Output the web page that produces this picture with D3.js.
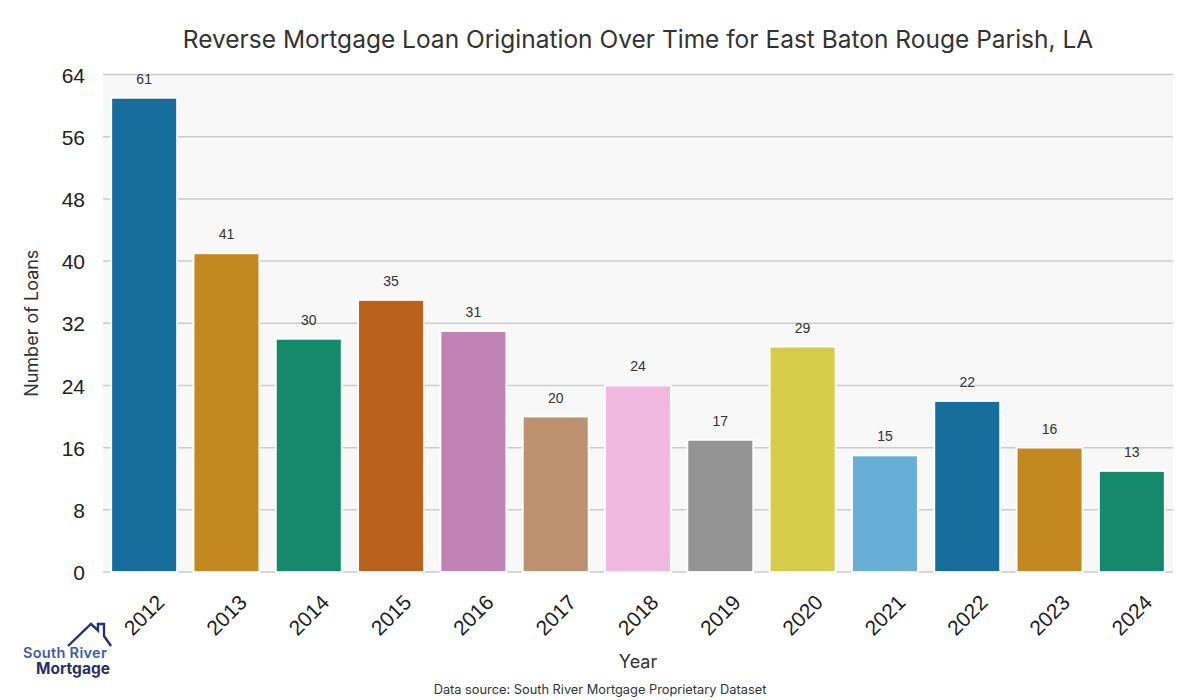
<!DOCTYPE html>
<html>
<head>
<meta charset="utf-8">
<script src="https://cdn.jsdelivr.net/npm/d3@7"></script>
<style>
  html, body { margin: 0; padding: 0; background: #ffffff; }
  svg { display: block; }
</style>
</head>
<body>
<svg id="chart" width="1200" height="700"></svg>
<script>
const years = ["2012","2013","2014","2015","2016","2017","2018","2019","2020","2021","2022","2023","2024"];
const loans = [61, 41, 30, 35, 31, 20, 24, 17, 29, 15, 22, 16, 13];
const yTicks = [0, 8, 16, 24, 32, 40, 48, 56, 64];
const palette = ["#176d9c","#c38820","#158a6a","#ba611b","#c183b6","#bd926e","#f1b8e0","#949494","#d5cd4a","#68afd7"];

const titleText = "Reverse Mortgage Loan Origination Over Time for East Baton Rouge Parish, LA";
const xLabel = "Year";
const yLabel = "Number of Loans";
const sourceText = "Data source: South River Mortgage Proprietary Dataset";
const logoLines = ["South River", "Mortgage"];

const svg = d3.select("#chart");
const m = { left: 103, right: 1173, top: 74.5, bottom: 572 };

const x = d3.scaleBand().domain(years).range([m.left, m.right]).paddingInner(0.2).paddingOuter(0.1);
const y = d3.scaleLinear().domain([0, 64]).range([m.bottom, m.top]);

const titleFont = "Inter, 'Open Sans', sans-serif";
const tickFont = "'Liberation Sans', Arial, sans-serif";

// plot background
svg.append("rect")
  .attr("x", m.left).attr("y", m.top)
  .attr("width", m.right - m.left).attr("height", m.bottom - m.top)
  .attr("fill", "#f8f8f8");

// gridlines
svg.append("g").selectAll("line").data(yTicks).join("line")
  .attr("x1", m.left).attr("x2", m.right)
  .attr("y1", d => y(d)).attr("y2", d => y(d))
  .attr("stroke", "#cccccc").attr("stroke-width", 1.5);

// bars
svg.append("g").selectAll("rect").data(loans).join("rect")
  .attr("x", (d, i) => x(years[i]))
  .attr("width", x.bandwidth())
  .attr("y", d => y(d))
  .attr("height", d => y(0) - y(d))
  .attr("fill", (d, i) => palette[i % palette.length])
  .attr("stroke", "#ffffff")
  .attr("stroke-width", 1.8);

// value labels
svg.append("g").selectAll("text").data(loans).join("text")
  .attr("x", (d, i) => x(years[i]) + x.bandwidth() / 2)
  .attr("y", d => y(d) - 14)
  .attr("text-anchor", "middle")
  .attr("font-family", tickFont)
  .attr("font-size", 14)
  .attr("fill", "#333333")
  .text(d => d);

// y axis
const yAxis = d3.axisLeft(y).tickValues(yTicks).tickSize(0).tickPadding(0);
const yg = svg.append("g").attr("transform", `translate(${m.left - 18},0)`).call(yAxis);
yg.select(".domain").remove();
yg.selectAll("text")
  .attr("font-family", tickFont).attr("font-size", 21).attr("fill", "#222222")
  .attr("dy", "0.36em");

// x axis
const xAxis = d3.axisBottom(x).tickSize(0).tickPadding(0);
const xg = svg.append("g").attr("transform", `translate(0,${m.bottom})`).call(xAxis);
xg.select(".domain").remove();
xg.selectAll("text")
  .attr("font-family", tickFont).attr("font-size", 21).attr("fill", "#222222")
  .attr("text-anchor", "middle")
  .attr("y", 0).attr("dy", "0.35em")
  .attr("transform", "translate(0,43) rotate(-45)");

// title
svg.append("text")
  .attr("x", (m.left + m.right) / 2).attr("y", 48)
  .attr("text-anchor", "middle")
  .attr("font-family", titleFont).attr("font-size", 24.5).attr("fill", "#333333")
  .text(titleText);

// axis titles
svg.append("text")
  .attr("x", (m.left + m.right) / 2).attr("y", 668)
  .attr("text-anchor", "middle")
  .attr("font-family", titleFont).attr("font-size", 18).attr("fill", "#333333")
  .text(xLabel);

svg.append("text")
  .attr("transform", `translate(38,${(m.top + m.bottom) / 2}) rotate(-90)`)
  .attr("text-anchor", "middle")
  .attr("font-family", titleFont).attr("font-size", 18).attr("fill", "#333333")
  .text(yLabel);

// source
svg.append("text")
  .attr("x", 600).attr("y", 694)
  .attr("text-anchor", "middle")
  .attr("font-family", titleFont).attr("font-size", 12.8).attr("fill", "#333333")
  .text(sourceText);

// logo
const logo = svg.append("g");
logo.append("path")
  .attr("d", "M68,646 L91,624 L98,630.5 L98,624 L104,624 L104,636 L111,646")
  .attr("fill", "none").attr("stroke", "#2b3170").attr("stroke-width", 2.4)
  .attr("stroke-linejoin", "miter");
const logoText = logo.append("text")
  .attr("font-family", "Inter, sans-serif").attr("font-weight", 700);
logoText.append("tspan")
  .attr("x", 23).attr("y", 657.5)
  .attr("font-size", 14.5).attr("font-weight", 600).attr("letter-spacing", 0.3)
  .attr("fill", "#3f5cab")
  .text(logoLines[0]);
logoText.append("tspan")
  .attr("x", 36).attr("y", 673.5)
  .attr("font-size", 15.5)
  .attr("fill", "#26306a")
  .text(logoLines[1]);
</script>
</body>
</html>
